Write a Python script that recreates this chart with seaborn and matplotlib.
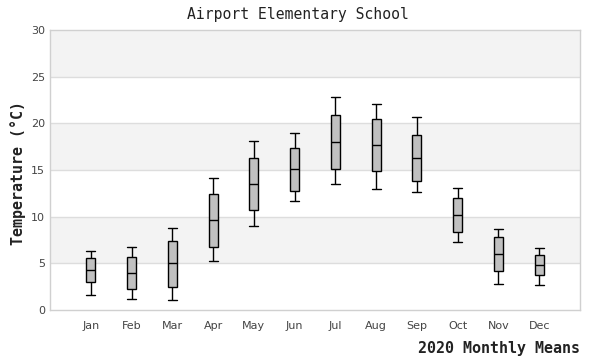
import numpy as np
import pandas as pd
import matplotlib
matplotlib.use("Agg")
import matplotlib.pyplot as plt
import seaborn as sns

months = ["Jan", "Feb", "Mar", "Apr", "May", "Jun", "Jul", "Aug", "Sep", "Oct", "Nov", "Dec"]
low    = [1.57, 1.14, 1.04, 5.21, 8.96, 11.64, 13.46, 12.93, 12.61, 7.25, 2.75, 2.64]
q1     = [2.96, 2.21, 2.50, 6.71, 10.68, 12.71, 15.07, 14.86, 13.80, 8.32, 4.14, 3.71]
median = [4.25, 3.93, 5.00, 9.61, 13.46, 15.07, 17.96, 17.64, 16.25, 10.18, 5.96, 4.79]
q3     = [5.54, 5.64, 7.36, 12.39, 16.25, 17.32, 20.86, 20.43, 18.71, 11.96, 7.79, 5.86]
high   = [6.29, 6.71, 8.82, 14.10, 18.07, 18.93, 22.79, 22.10, 20.64, 13.04, 8.64, 6.61]

rows = []
for i, m in enumerate(months):
    for v in (low[i], q1[i], median[i], q3[i], high[i]):
        rows.append({"Month": m, "Temp": v})
df = pd.DataFrame(rows)

BOX_W = 0.22

sns.set_theme(style="white")
fig = plt.figure(figsize=(6, 3.6), dpi=100)
ax = fig.add_axes([50/600, 50/360, 530/600, 280/360])

for lo in (5, 15, 25):
    ax.axhspan(lo, lo + 5, color="#f3f3f3", zorder=0, lw=0)
for y in (5, 10, 15, 20, 25):
    ax.axhline(y, color="#dddddd", lw=1, zorder=0.5)

sns.boxplot(data=df, x="Month", y="Temp", order=months, whis=(0, 100),
            width=BOX_W, color="#c0c0c0", saturation=1, ax=ax,
            linecolor="black", linewidth=1,
            boxprops=dict(facecolor="#c0c0c0", edgecolor="black"),
            medianprops=dict(color="black"),
            whiskerprops=dict(color="black"),
            capprops=dict(color="black"),
            zorder=2)

# widen caps to the box width
for cont in ax.containers:
    caps = getattr(cont, "caps", None)
    if caps is None:
        continue
    for cap in caps:
        xd = np.asarray(cap.get_xdata(), dtype=float)
        c = xd.mean()
        cap.set_xdata([c - BOX_W / 2, c + BOX_W / 2])

ax.set_xlim(-1, 12)
ax.set_ylim(0, 30)
ax.set_yticks([0, 5, 10, 15, 20, 25, 30])
ax.tick_params(axis="both", length=0, labelsize=8, labelcolor="#444444")
ax.tick_params(axis="x", pad=8)
for s in ax.spines.values():
    s.set_color("#d0d0d0")
    s.set_linewidth(1)
ax.set_xlabel("")
ax.set_ylabel("")

fig.text(298/600, 1 - 15/360, "Airport Elementary School", ha="center", va="center",
         family="DejaVu Sans Mono", fontsize=10.6, color="#222222")
fig.text(18/600, 1 - 173/360, "Temperature (°C)", rotation=90, ha="center", va="center",
         family="DejaVu Sans Mono", fontsize=10.8, fontweight="bold", color="#222222")
fig.text(580/600, 1 - 348/360, "2020 Monthly Means", ha="right", va="center",
         family="DejaVu Sans Mono", fontsize=10.8, fontweight="bold", color="#222222")

fig.savefig("out.png", dpi=100)
